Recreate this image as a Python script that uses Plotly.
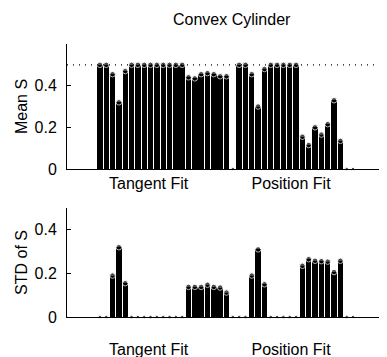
import plotly.graph_objects as go

# ---- data ----
idx = list(range(41))
mean_s = [0.5, 0.5, 0.455, 0.32, 0.47,
          0.5, 0.5, 0.5, 0.5, 0.5, 0.5, 0.5, 0.5, 0.5,
          0.44, 0.435, 0.455, 0.46, 0.455, 0.445, 0.445,
          0.0,
          0.5, 0.5, 0.455, 0.30, 0.48,
          0.5, 0.5, 0.5, 0.5, 0.5,
          0.155, 0.115, 0.20, 0.165, 0.215, 0.33, 0.135,
          0.0, 0.0]
std_s = [0.0, 0.0, 0.19, 0.32, 0.155,
         0, 0, 0, 0, 0, 0, 0, 0, 0,
         0.138, 0.138, 0.138, 0.148, 0.138, 0.135, 0.112,
         0.0,
         0.0, 0.0, 0.19, 0.31, 0.15,
         0, 0, 0, 0, 0,
         0.235, 0.265, 0.258, 0.256, 0.254, 0.206, 0.258,
         0.0, 0.0]
group_labels = ["Tangent Fit", "Position Fit"]
group_label_pos = [7.7, 30.2]
y_ticks = [0, 0.2, 0.4]
y_ticktext = ["0", "0.2", "0.4"]
ref_level = 0.5

FONT = "Liberation Sans, Arial, Helvetica, sans-serif"
W, H = 387, 357
L, R = 59, 4

fig = go.Figure()
for vals, xa, ya in [(mean_s, "x", "y"), (std_s, "x2", "y2")]:
    fig.add_trace(go.Bar(x=idx, y=vals, width=0.85, marker=dict(color="black", line=dict(width=0)),
                         xaxis=xa, yaxis=ya, showlegend=False))
    fig.add_trace(go.Scatter(x=idx, y=vals, mode="markers",
                             marker=dict(color="black", size=[5.5 if v > 0 else 3.5 for v in vals]),
                             xaxis=xa, yaxis=ya, showlegend=False, cliponaxis=False))

# dotted reference line on top panel
fig.add_shape(type="line", xref="x domain", x0=0, x1=1, yref="y", y0=ref_level, y1=ref_level,
              line=dict(color="black", width=1.2, dash="1px,5px"))

def ydom(y_bottom_px, y_top_px):
    return [(H - y_bottom_px) / H, (H - y_top_px) / H]

xcommon = dict(range=[-5.2, 46.0], showline=True, linecolor="black", linewidth=1,
               showgrid=False, zeroline=False, tickvals=group_label_pos, ticktext=group_labels,
               ticks="", tickfont=dict(family=FONT, size=16, color="black"), fixedrange=True)
ycommon = dict(showline=True, linecolor="black", linewidth=1, showgrid=False, zeroline=False,
               tickvals=y_ticks, ticktext=y_ticktext, ticks="inside", ticklen=4, tickcolor="black",
               ticklabelstandoff=6,
               tickfont=dict(family=FONT, size=16, color="black"), automargin=False)

fig.update_layout(
    width=W, height=H, margin=dict(l=L, r=R, t=0, b=0),
    paper_bgcolor="white", plot_bgcolor="white", bargap=0,
    xaxis=dict(domain=[0, 1], anchor="y", **xcommon),
    yaxis=dict(domain=ydom(161, 36), range=[0, 0.6], anchor="x",
               title=dict(text="Mean S", font=dict(family=FONT, size=16, color="black"), standoff=2), **ycommon),
    xaxis2=dict(domain=[0, 1], anchor="y2", ticklabelstandoff=18, **xcommon),
    yaxis2=dict(domain=ydom(309, 200), range=[0, 0.5], anchor="x2",
                title=dict(text="STD of S", font=dict(family=FONT, size=16, color="black"), standoff=2), **ycommon),
    annotations=[dict(text="Convex Cylinder", xref="paper", yref="paper",
                      x=(224 - L) / (W - L - R), y=(H - 12) / H, xanchor="center", yanchor="middle",
                      showarrow=False, font=dict(family=FONT, size=16, color="black"))],
)

fig.write_html("out.html")
